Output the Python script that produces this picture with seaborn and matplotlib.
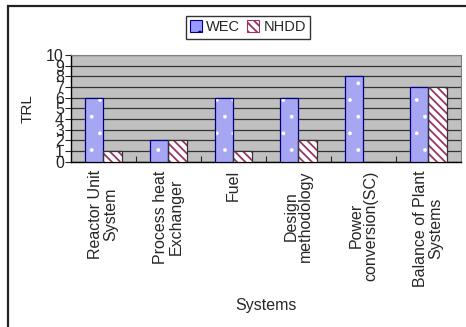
import pandas as pd
import matplotlib
matplotlib.use("Agg")
import matplotlib.pyplot as plt
import seaborn as sns
from matplotlib.patches import Patch, Rectangle

systems = ["Reactor Unit\nSystem", "Process heat\nExchanger", "Fuel",
           "Design\nmethodology", "Power\nconversion(SC)", "Balance of Plant\nSystems"]
wec = [6, 2, 6, 6, 8, 7]
nhdd = [1, 2, 1, 2, 0, 7]
series = ["WEC", "NHDD"]

df = pd.DataFrame({
    "System": systems * 2,
    "TRL": wec + nhdd,
    "Source": ["WEC"] * len(systems) + ["NHDD"] * len(systems),
})

sns.set_style("white")
plt.rcParams["font.family"] = ["Liberation Sans", "DejaVu Sans"]
plt.rcParams["hatch.linewidth"] = 1.3

fig = plt.figure(figsize=(4.66, 3.27), dpi=100)
ax = fig.add_axes([0.152, 0.505, 0.837, 0.327])
ax.set_facecolor("#C0C0C0")

fills = {"WEC": "#9999FF", "NHDD": "white"}
hatch_col = {"WEC": "white", "NHDD": "#993366"}
hatches = {"WEC": ".", "NHDD": "\\\\\\\\"}
hatch_lw = {"WEC": 0.3, "NHDD": 1.3}
outline = {"WEC": "#000080", "NHDD": "#333333"}

sns.barplot(data=df, x="System", y="TRL", hue="Source", hue_order=series,
            palette=fills, width=0.56, gap=0, dodge=True, ax=ax, legend=False,
            zorder=3)

for cont, name in zip(ax.containers, series):
    for bar in cont:
        bar.set_hatch(hatches[name])
        bar.set_edgecolor(hatch_col[name])
        bar.set_linewidth(0)
        if hasattr(bar, "set_hatch_linewidth"):
            bar.set_hatch_linewidth(hatch_lw[name])
        ax.add_patch(Rectangle(bar.get_xy(), bar.get_width(), bar.get_height(),
                               fill=False, edgecolor=outline[name], lw=0.9, zorder=4))

ax.set_ylim(0, 10)
ax.set_xlim(-0.5, len(systems) - 0.5)
ax.set_yticks(range(0, 11))
ax.yaxis.grid(True, color="#333333", lw=0.9, zorder=0)
ax.set_axisbelow(True)
for s in ["top", "right"]:
    ax.spines[s].set_color("#808080")
for s in ["left", "bottom"]:
    ax.spines[s].set_color("black")
    ax.spines[s].set_linewidth(1)

ax.tick_params(axis="y", which="major", direction="out", length=4, width=0.8,
               labelsize=11.5, pad=1, left=True)
ax.set_xticks([i + 0.5 for i in range(len(systems) - 1)], minor=True)
ax.tick_params(axis="x", which="minor", direction="in", length=4, width=0.8, bottom=True)
ax.tick_params(axis="x", which="major", length=0, labelsize=11.5, pad=6)
ax.set_xticks(range(len(systems)))
ax.set_xticklabels(systems, rotation=90, ha="center", va="top",
                   multialignment="center", linespacing=1.0)

ax.set_ylabel("TRL", fontsize=11, labelpad=8)
ax.set_xlabel("Systems", fontsize=11.5, labelpad=8)

legend_edge = {"WEC": "#000080", "NHDD": "#993366"}
handles = [Patch(facecolor=fills[n], edgecolor=legend_edge[n], hatch=hatches[n],
                 label=n, lw=0.8)
           for n in series]
fig.legend(handles=handles, loc="center", bbox_to_anchor=(0.532, 0.917), ncol=2,
           frameon=True, fancybox=False, edgecolor="black", fontsize=10.5,
           handlelength=0.8, handleheight=0.8, handletextpad=0.3, columnspacing=0.5,
           borderpad=0.3)

fig.patches.append(Rectangle((0.017, -0.2), 1.2, 1.182, transform=fig.transFigure,
                             fill=False, edgecolor="#222222", lw=1.6))

fig.savefig("out.png", dpi=100)
